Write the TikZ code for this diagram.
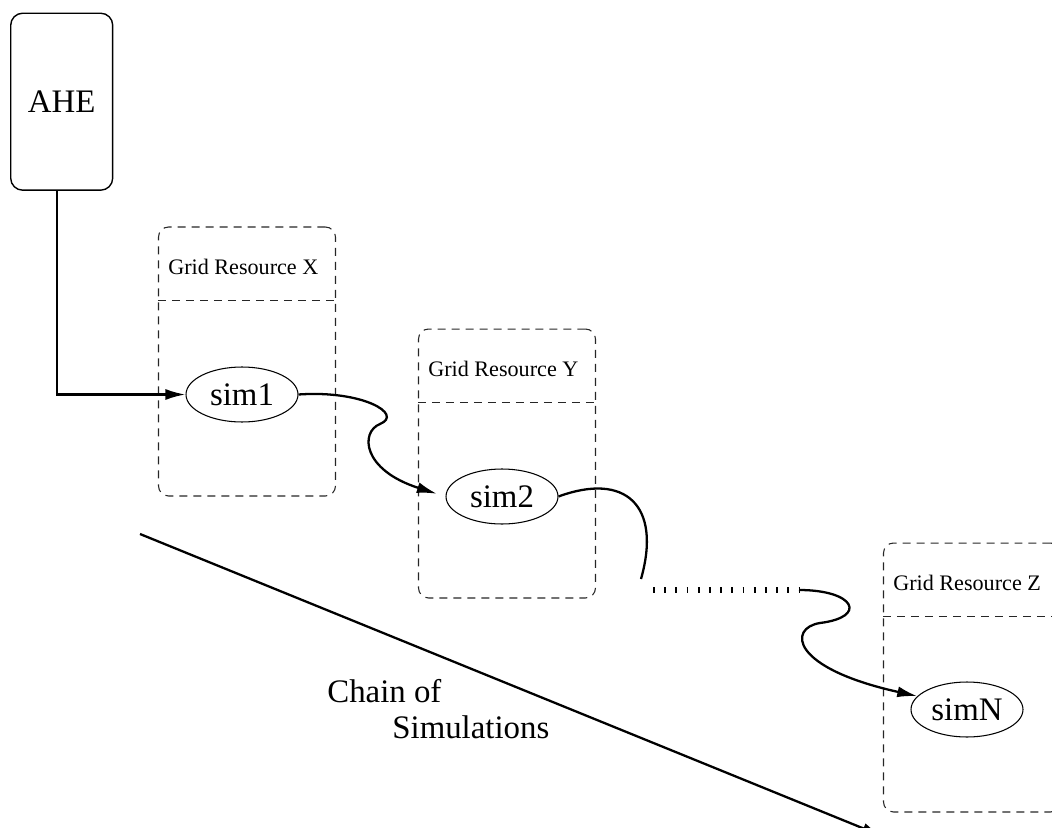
\documentclass[tikz,border=0pt]{standalone}
\usepackage{fontspec}
\setmainfont{Liberation Serif}
\usetikzlibrary{arrows.meta,shapes.geometric}

\begin{document}
\begin{tikzpicture}[x=0.02cm, y=-0.02cm, style={
  big/.style={
    font=\fontsize{18.7}{22}\selectfont,
  },
  ahestyle/.style={
    big, rectangle,
    line width=0.8pt,
    rounded corners=0.24cm,
    minimum width=2.04cm,
    minimum height=3.54cm,
    draw,
  },
  gridstyle/.style={
    rectangle,
    line width=0.6pt,
    dash pattern=on 0.16cm off 0.12cm,
    rounded corners=0.2cm,
    minimum width=3.54cm,
    minimum height=5.38cm,
    inner sep=0pt,
    draw=black!85,
  },
  gridline/.style={
    line width=0.6pt,
    dash pattern=on 0.16cm off 0.12cm,
    draw=black!85,
  },
  gridlabel/.style={
    anchor=base west, inner sep=0pt,
    font=\fontsize{12.6}{15}\selectfont,
  },
  simstyle/.style={
    big, ellipse,
    line width=0.6pt,
    minimum width=2.24cm,
    minimum height=1.1cm,
    inner sep=0pt,
    draw,
  },
  chaintext/.style={big, anchor=base west, inner sep=0pt},
  hop/.style={line width=1.3pt},
  myarrow/.style={hop, -{Latex[length=0.4cm, width=0.22cm]}},
  gapstyle/.style={line width=0.11cm, dash pattern=on 0.035cm off 0.189cm}
}]
\useasboundingbox (0,0) rectangle (1052,828);
\draw[]
  node[ahestyle] (ahe) at (61.7,101.7) {AHE}
  node[gridstyle] (gridX) at (247,361.5) {}
  node[gridstyle] (gridY) at (507,463.5) {}
  node[gridstyle] (gridZ) at (972,677.5) {}
  node[simstyle] (sim1) at (242,394.5) {sim1}
  node[simstyle] (sim2) at (502,496.5) {sim2}
  node[simstyle] (simN) at (967,709.5) {simN}
;
\foreach \g/\r in {gridX/X, gridY/Y, gridZ/Z} {
  \draw[gridline]
    ([yshift=-1.48cm]\g.north west) -- ([yshift=-1.48cm]\g.north east);
  \node[gridlabel] (label\r) at ([shift={(0.2cm,-0.96cm)}]\g.north west) {
    Grid Resource \r
  };
}
\draw[myarrow] ([xshift=-0.09cm]ahe.south) |- (sim1.west);
\draw[myarrow, shorten >=0.18cm]
  (sim1.east) .. controls (362,390) and (404,414) .. (380,424)
  .. controls (360,432) and (362,470) .. (sim2.west);
\coordinate (gapL) at (641,579);
\coordinate (dotL) at (653,590);
\coordinate (dotR) at (799,590);
\draw[hop] (sim2.east) .. controls (625,472) and (662,505) .. (gapL);
\draw[gapstyle] (dotL) -- (dotR);
\draw[myarrow]
  (dotR) .. controls (855,590) and (868,617) .. (820,623)
  .. controls (788,628) and (790,668) .. (simN.165);
\coordinate (chainS) at (140,534);
\coordinate (chainE) at (882,836);
\draw[myarrow] (chainS) -- (chainE);
\node[chaintext] (chain) at (327,702) {Chain of};
\node[chaintext] (sims) at (392,738) {Simulations};
\end{tikzpicture}
\end{document}
